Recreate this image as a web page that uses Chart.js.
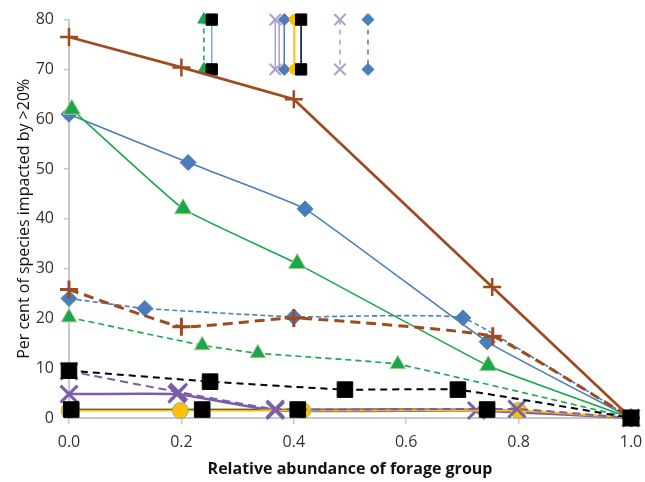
<!DOCTYPE html>
<html lang="en">
<head>
    <meta charset="UTF-8">
    <title>Forage groups</title>
    <script src="https://cdn.jsdelivr.net/npm/chart.js"></script>
    <style>
        body { margin: 0; padding: 0; background: #fff; }
        #wrap { width: 645px; height: 482px; }
    </style>
</head>
<body>
    <div id="wrap"><canvas id="chart"></canvas></div>

    <script>
        // series (x = relative abundance, y = per cent impacted)
        const brownSolidX = [0, 0.2, 0.4, 0.753, 1];
        const brownSolidY = [76.5, 70.4, 64, 26.3, 0];
        const blueSolidX = [0, 0.212, 0.42, 0.744, 1];
        const blueSolidY = [61, 51.3, 42, 15.3, 0];
        const greenSolidX = [0.005, 0.203, 0.406, 0.746, 1];
        const greenSolidY = [62, 42, 31, 10.5, 0];
        const brownDashX = [0, 0.2, 0.4, 0.754, 1];
        const brownDashY = [25.8, 18.3, 20.1, 16.4, 0];
        const blueDashX = [0, 0.135, 0.4, 0.701, 1];
        const blueDashY = [24, 22, 20.3, 20.1, 0];
        const greenDashX = [0, 0.237, 0.336, 0.585, 1];
        const greenDashY = [20.2, 14.6, 13, 10.8, 0];
        const blackDashX = [0, 0.251, 0.491, 0.692, 1];
        const blackDashY = [9.5, 7.3, 5.7, 5.7, 0];
        const blackSolidX = [0.004, 0.237, 0.407, 0.744, 1];
        const blackSolidY = [1.7, 1.7, 1.7, 1.7, 0];
        const yellowX = [0, 0.198, 0.416, 0.8, 1];
        const yellowY = [1.5, 1.5, 1.5, 1.5, 0];
        const purpleSolidX = [0, 0.192, 0.367, 0.725, 1];
        const purpleSolidY = [4.8, 4.8, 1.5, 1.5, 0];
        const purpleDashX = [0, 0.195, 0.367, 0.797, 1];
        const purpleDashY = [9.4, 5.2, 1.8, 1.8, 0];

        // the odd little legend stubs along the top
        const legendY = [80, 70];
        const legendGreenX = 0.240;
        const legendCyanX = 0.254;
        const legendLavX = [0.367, 0.374];
        const legendBlueX = 0.383;
        const legendYellowX = 0.401;
        const legendBlackX = 0.413;
        const legendLavDashX = 0.482;
        const legendBlueDashX = 0.532;

        const xTicks = [0, 0.2, 0.4, 0.6, 0.8, 1.0];

        const BROWN = '#a04b1f';
        const BLUE = '#4a7ebb';
        const GREEN = '#16a84a';
        const PURPLE = '#7b5ea7';
        const LAVENDER = '#ab9fd1';
        const YELLOW = '#ffc000';

        function pts(xs, ys) {
            return xs.map((x, i) => ({ x: x, y: ys[i] }));
        }
        function stub(x) {
            return legendY.map(y => ({ x: x, y: y }));
        }

        function series(data, color, opts) {
            return Object.assign({
                data: data,
                showLine: true,
                borderColor: color,
                backgroundColor: color,
                pointBackgroundColor: color,
                pointBorderColor: color,
                borderWidth: 1.6,
                pointBorderWidth: 1,
                tension: 0.1,
                clip: false
            }, opts);
        }

        const datasets = [
            // black squares sit on top, their line sits under the yellow one
            series(pts(blackSolidX, blackSolidY), '#000', { showLine: false, pointStyle: 'rect', pointRadius: 11 }),
            series(pts(blackDashX, blackDashY), '#000', { borderWidth: 2, borderDash: [7, 5], pointStyle: 'rect', pointRadius: 11 }),
            series(pts(brownSolidX, brownSolidY), BROWN, { borderWidth: 2.7, pointStyle: 'cross', pointRadius: 9, pointBorderWidth: 2.5, tension: 0 }),
            series(pts(brownDashX, brownDashY), BROWN, { borderWidth: 3, borderDash: [10, 6], pointStyle: 'cross', pointRadius: 9, pointBorderWidth: 3 }),
            series(pts(greenSolidX, greenSolidY), GREEN, { borderWidth: 1.6, pointStyle: 'triangle', pointRadius: 10, pointBorderColor: '#b7c98a' }),
            series(pts(greenDashX, greenDashY), GREEN, { borderWidth: 1.6, borderDash: [6, 4], pointStyle: 'triangle', pointRadius: 9, pointBorderColor: '#b7c98a' }),
            series(pts(blueSolidX, blueSolidY), BLUE, { borderWidth: 1.6, pointStyle: 'rectRot', pointRadius: 8 }),
            series(pts(blueDashX, blueDashY), BLUE, { borderWidth: 1.6, borderDash: [5, 3], pointStyle: 'rectRot', pointRadius: 8 }),
            series(pts(purpleDashX, purpleDashY), PURPLE, { borderWidth: 2, borderDash: [8, 5], pointStyle: 'crossRot', pointRadius: 12, pointBorderWidth: 3 }),
            series(pts(yellowX, yellowY), YELLOW, { borderWidth: 2, pointStyle: 'circle', pointRadius: 8, pointBorderColor: '#8fb3a8' }),
            series(pts(purpleSolidX, purpleSolidY), PURPLE, { borderWidth: 2.5, pointStyle: 'crossRot', pointRadius: 12, pointBorderWidth: 3 }),
            series(pts(blackSolidX, blackSolidY), '#000', { borderWidth: 1.5, pointRadius: 0 }),

            // legend stubs
            series(stub(legendCyanX), '#6cb7d6', { borderWidth: 1.5, pointStyle: 'rect', pointRadius: 8, pointBackgroundColor: '#000', pointBorderColor: '#000', tension: 0 }),
            series(stub(legendGreenX), GREEN, { borderWidth: 1.5, borderDash: [5, 4], pointStyle: 'triangle', pointRadius: 7, tension: 0 }),
            series(stub(legendBlackX), '#000', { borderWidth: 1.5, pointStyle: 'rect', pointRadius: 8, tension: 0 }),
            series(stub(legendYellowX), YELLOW, { borderWidth: 2, pointStyle: 'circle', pointRadius: 5, tension: 0 }),
            series(stub(legendBlueX), BLUE, { borderWidth: 1.5, pointStyle: 'rectRot', pointRadius: 6, tension: 0 }),
            series(stub(legendLavX[0]), LAVENDER, { borderWidth: 1.5, pointStyle: 'crossRot', pointRadius: 8, pointBorderWidth: 2, tension: 0 }),
            series(stub(legendLavX[1]), LAVENDER, { borderWidth: 1.5, pointRadius: 0, tension: 0 }),
            series(stub(legendLavDashX), LAVENDER, { borderWidth: 1.5, borderDash: [5, 5], pointStyle: 'crossRot', pointRadius: 8, pointBorderWidth: 2, tension: 0 }),
            series(stub(legendBlueDashX), BLUE, { borderWidth: 1.5, borderDash: [5, 5], pointStyle: 'rectRot', pointRadius: 6, tension: 0 })
        ];

        new Chart(document.getElementById('chart'), {
            type: 'scatter',
            data: { datasets: datasets },
            options: {
                responsive: true,
                maintainAspectRatio: false,
                animation: false,
                events: [],
                layout: { autoPadding: false, padding: { top: 18, right: 14, bottom: 0, left: 0 } },
                plugins: {
                    legend: { display: false },
                    tooltip: { enabled: false }
                },
                scales: {
                    x: {
                        type: 'linear',
                        min: 0,
                        max: 1,
                        afterBuildTicks: scale => {
                            scale.ticks = xTicks.map(v => ({ value: v }));
                        },
                        afterFit: scale => {
                            scale.height = 64;
                            // tick padding would otherwise widen the right margin
                            scale.paddingLeft = 0;
                            scale.paddingRight = 0;
                        },
                        grid: { drawOnChartArea: false, tickLength: 6, color: '#c8c8c8', lineWidth: 1.5 },
                        border: { color: '#c8c8c8', width: 2 },
                        ticks: {
                            padding: 9,
                            color: '#333',
                            font: { family: 'Open Sans', size: 16 },
                            callback: v => Number(v).toFixed(1)
                        },
                        title: {
                            display: true,
                            text: 'Relative abundance of forage group',
                            color: '#111',
                            font: { family: 'Open Sans', size: 16, weight: 'bold' },
                            padding: { top: 0, bottom: 3 }
                        }
                    },
                    y: {
                        min: 0,
                        max: 80,
                        ticks: {
                            stepSize: 10,
                            padding: 10,
                            color: '#333',
                            font: { family: 'Open Sans', size: 16 }
                        },
                        afterFit: scale => { scale.width = 69; },
                        grid: { drawOnChartArea: false, tickLength: 5, color: '#c8c8c8', lineWidth: 1.5 },
                        border: { color: '#c8c8c8', width: 2 },
                        title: {
                            display: true,
                            text: 'Per cent of species impacted by >20%',
                            color: '#111',
                            font: { family: 'Open Sans', size: 16 },
                            padding: { top: 15, bottom: 0 }
                        }
                    }
                }
            }
        });
    </script>
</body>
</html>
